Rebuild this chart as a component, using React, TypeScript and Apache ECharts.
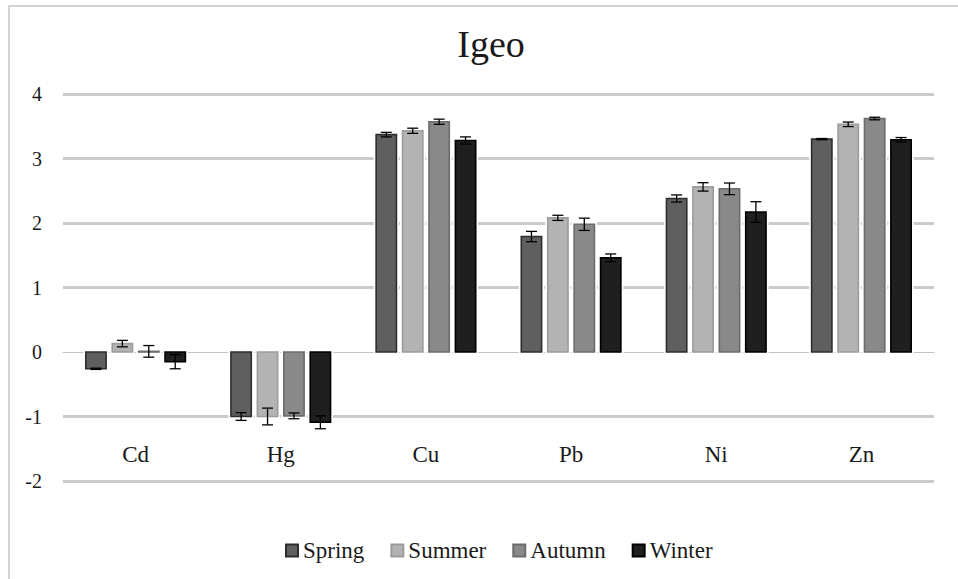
import React, { useEffect, useRef } from 'react';
import * as echarts from 'echarts';

const categories = ['Cd', 'Hg', 'Cu', 'Pb', 'Ni', 'Zn'];
const seasons = ['Spring', 'Summer', 'Autumn', 'Winter'];

const springValues = [-0.26, -1.0, 3.37, 1.79, 2.38, 3.3];
const summerValues = [0.13, -1.0, 3.43, 2.08, 2.56, 3.53];
const autumnValues = [0.01, -0.99, 3.57, 1.98, 2.53, 3.62];
const winterValues = [-0.15, -1.09, 3.28, 1.46, 2.17, 3.29];

const springErrors = [0.01, 0.06, 0.035, 0.08, 0.055, 0.01];
const summerErrors = [0.05, 0.13, 0.04, 0.04, 0.065, 0.035];
const autumnErrors = [0.09, 0.045, 0.04, 0.095, 0.09, 0.02];
const winterErrors = [0.11, 0.1, 0.055, 0.06, 0.16, 0.035];

const yMin = -2;
const yMax = 4;
const yInterval = 1;

const fills = ['#5f5f5f', '#b3b3b3', '#898989', '#1f1f1f'];
const strokes = ['#2e2e2e', '#9c9c9c', '#6c6c6c', '#000000'];
const serif = 'Liberation Serif';
const ink = '#1a1a1a';

export default function App() {
  const ref = useRef<HTMLDivElement>(null);

  useEffect(() => {
    const chart = echarts.init(ref.current!, null, { renderer: 'svg' });
    const valueSets = [springValues, summerValues, autumnValues, winterValues];
    const errorSets = [springErrors, summerErrors, autumnErrors, winterErrors];

    const makeRender = (idx: number) => (params: any, api: any) => {
      const cat = api.value(0);
      const v = api.value(1);
      const e = api.value(2);
      const band = api.size([1, 0])[0];
      const bw = band * 0.14;
      const step = band * 0.182;
      const base = api.coord([cat, 0]);
      const end = api.coord([cat, v]);
      const cx = base[0] + (idx - 1.5) * step;
      const x = cx - bw / 2;
      const y0 = Math.min(base[1], end[1]);
      const h = Math.abs(base[1] - end[1]);
      const hi = api.coord([cat, v + e])[1];
      const lo = api.coord([cat, v - e])[1];
      const cap = 5.5;
      return {
        type: 'group',
        children: [
          { type: 'rect', shape: { x: x - 2.5, y: y0 - 2.5, width: bw + 5, height: h + 5 }, style: { fill: '#ffffff' } },
          { type: 'rect', shape: { x, y: y0, width: bw, height: h }, style: { fill: fills[idx], stroke: strokes[idx], lineWidth: 1.6 } },
          { type: 'line', shape: { x1: cx, y1: hi, x2: cx, y2: lo }, style: { stroke: '#000', lineWidth: 1.3 } },
          { type: 'line', shape: { x1: cx - cap, y1: hi, x2: cx + cap, y2: hi }, style: { stroke: '#000', lineWidth: 1.3 } },
          { type: 'line', shape: { x1: cx - cap, y1: lo, x2: cx + cap, y2: lo }, style: { stroke: '#000', lineWidth: 1.3 } },
        ],
      };
    };

    const series = seasons.map((name, idx) => ({
      name,
      type: 'custom',
      renderItem: makeRender(idx),
      encode: { x: 0, y: 1 },
      xAxisIndex: 0,
      yAxisIndex: 0,
      itemStyle: { color: fills[idx], borderColor: strokes[idx], borderWidth: 1 },
      data: categories.map((_, i) => [i, valueSets[idx][i], errorSets[idx][i]]),
      z: 2,
    }));

    const gridColor = '#cbcbcb';
    const splitColors: string[] = [];
    for (let v = yMin; v <= yMax; v += yInterval) splitColors.push(v === 0 ? '#ffffff' : gridColor);

    chart.setOption({
      animation: false,
      backgroundColor: '#ffffff',
      textStyle: { fontFamily: serif },
      graphic: [
        {
          type: 'rect',
          shape: { x: 9, y: 6, width: 1000, height: 640 },
          style: { fill: 'none', stroke: '#d3d3d3', lineWidth: 2 },
          silent: true,
          z: -1,
        },
        {
          type: 'text',
          x: 491,
          y: 44,
          style: {
            text: 'Igeo',
            fontFamily: serif,
            fontSize: 38,
            fill: ink,
            textAlign: 'center',
            textVerticalAlign: 'middle',
          },
        },
      ],
      legend: {
        data: seasons,
        left: 280,
        top: 534,
        icon: 'rect',
        itemWidth: 12,
        itemHeight: 12,
        itemGap: 26,
        formatter: '{a|{name}}',
        textStyle: {
          fontFamily: serif,
          fontSize: 23,
          color: ink,
          rich: { a: { fontFamily: serif, fontSize: 23, color: ink } },
        },
      },
      grid: { left: 63, right: 24, top: 94, bottom: 98, containLabel: false, outerBoundsMode: 'none' },
      xAxis: [
        {
          type: 'category',
          data: categories,
          position: 'bottom',
          axisLine: { show: false, onZero: false },
          axisTick: { show: false },
          axisLabel: {
            margin: -38,
            fontFamily: serif,
            fontSize: 23,
            color: ink,
            formatter: '{a|{value}}',
            rich: { a: { fontFamily: serif, fontSize: 23, color: ink } },
          },
          splitLine: { show: false },
        },
        {
          type: 'category',
          data: categories,
          position: 'bottom',
          z: 1,
          axisLine: { show: true, onZero: true, lineStyle: { color: '#c4c4c4', width: 1 } },
          axisTick: { show: false },
          axisLabel: { show: false },
          splitLine: { show: false },
        },
      ],
      yAxis: {
        type: 'value',
        min: yMin,
        max: yMax,
        interval: yInterval,
        axisLine: { show: false },
        axisTick: { show: false },
        axisLabel: {
          margin: 21,
          fontFamily: serif,
          fontSize: 20,
          color: ink,
          formatter: (v: number) => '{a|' + v + '}',
          rich: { a: { fontFamily: serif, fontSize: 20, color: ink } },
        },
        splitLine: { show: true, lineStyle: { color: splitColors, width: 3 } },
      },
      series,
    });

    return () => chart.dispose();
  }, []);

  return (
    <div
      ref={ref}
      style={{ position: 'fixed', left: 0, top: 0, width: 958, height: 579, background: '#fff' }}
    />
  );
}
